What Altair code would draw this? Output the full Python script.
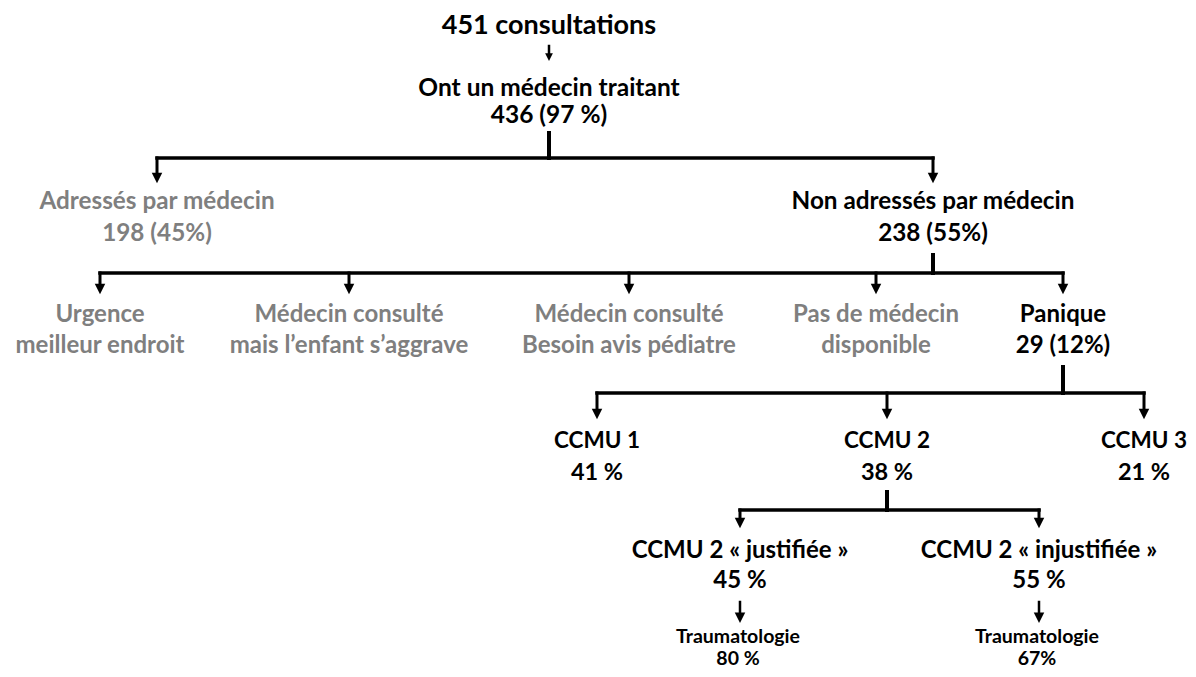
import altair as alt
import pandas as pd

# ---------------- data ----------------
line1 = ["451 consultations", "Ont un médecin traitant", "Adressés par médecin",
         "Non adressés par médecin", "Urgence", "Médecin consulté", "Médecin consulté",
         "Pas de médecin", "Panique", "CCMU 1", "CCMU 2", "CCMU 3",
         "CCMU 2 « justifiée »", "CCMU 2 « injustifiée »", "Traumatologie", "Traumatologie"]
line2 = ["", "436 (97 %)", "198 (45%)", "238 (55%)", "meilleur endroit",
         "mais l’enfant s’aggrave", "Besoin avis pédiatre", "disponible", "29 (12%)",
         "41 %", "38 %", "21 %", "45 %", "55 %", "80 %", "67%"]
greyed = [False, False, True, False, True, True, True, True, False,
          False, False, False, False, False, False, False]

# ---------------- layout ----------------
node_x = [549, 549, 157, 933, 100, 349, 629, 876, 1063, 597, 887, 1144, 740, 1039, 738, 1037]
node_row = [0, 1, 2, 2, 3, 3, 3, 3, 3, 4, 4, 4, 5, 5, 6, 6]
row_base = [34, 96, 209, 322, 448, 558, 643]
row_gap = [0, 27, 32, 31, 32, 30, 22]
row_font = [27, 24.5, 24.3, 24, 23.5, 24, 19.5]
caps_font = 22.5          # for the short "CCMU n" headings
caps_nodes = [9, 10, 11]

# branches: parent, children, stem top, bar y, arrow tip y
branches = [(1, [2, 3], 133, 158, 183),
            (3, [4, 5, 6, 7, 8], 255, 273, 294),
            (8, [9, 10, 11], 367, 393, 419),
            (10, [12, 13], 492, 510, 528)]
# single arrows: parent, child, top y, tip y, head size
singles = [(0, 1, 46, 61, 60), (12, 14, 602, 623, 110), (13, 15, 602, 623, 110)]

texts = []
for i in range(len(line1)):
    r = node_row[i]
    col = "#7f7f7f" if greyed[i] else "#000000"
    s1 = caps_font if i in caps_nodes else row_font[r]
    texts.append(dict(x=node_x[i], y=row_base[r], t=line1[i], c=col, s=s1))
    if line2[i]:
        texts.append(dict(x=node_x[i], y=row_base[r] + row_gap[r], t=line2[i], c=col, s=row_font[r]))
tdf = pd.DataFrame(texts)

segs, heads = [], []
for p, ch, top, bar, tip in branches:
    px = node_x[p]
    segs.append(dict(x=px, y=top, x2=px, y2=bar, w=4))
    xs = [node_x[c] for c in ch]
    segs.append(dict(x=min(xs), y=bar, x2=max(xs), y2=bar, w=3.5))
    for cx in xs:
        segs.append(dict(x=cx, y=bar, x2=cx, y2=tip - 8, w=3))
        heads.append(dict(x=cx, y=tip - 5, s=110))
for p, c, top, tip, hs in singles:
    cx = node_x[p] if p != 0 else node_x[c]
    h = (hs ** 0.5)
    segs.append(dict(x=cx, y=top, x2=cx, y2=tip - h * 0.8, w=2.5))
    heads.append(dict(x=cx, y=tip - h / 2, s=hs))
sdf = pd.DataFrame(segs)
hdf = pd.DataFrame(heads)

X = alt.X("x:Q", scale=alt.Scale(domain=[8, 1188]), axis=None)
Y = alt.Y("y:Q", scale=alt.Scale(domain=[8, 669], reverse=True), axis=None)

text_layer = alt.Chart(tdf).mark_text(
    font="Lato", fontWeight="bold", align="center", baseline="alphabetic"
).encode(x=X, y=Y, text="t:N",
         color=alt.Color("c:N", scale=None),
         size=alt.Size("s:Q", scale=None))

rule_layer = alt.Chart(sdf).mark_rule(color="black", strokeCap="square").encode(
    x=X, y=Y, x2="x2:Q", y2="y2:Q",
    strokeWidth=alt.StrokeWidth("w:Q", scale=None))

head_layer = alt.Chart(hdf).mark_point(
    shape="M-1,-1L1,-1L0,1Z", filled=True, opacity=1, color="black", strokeWidth=0
).encode(x=X, y=Y, size=alt.Size("s:Q", scale=None))

chart = alt.layer(rule_layer, head_layer, text_layer).properties(
    width=1180, height=661, padding=0, autosize=alt.AutoSizeParams(type="none"),
    background="white"
).configure_view(stroke=None)

chart.save("out.html", embed_options={"renderer": "svg", "actions": False})
